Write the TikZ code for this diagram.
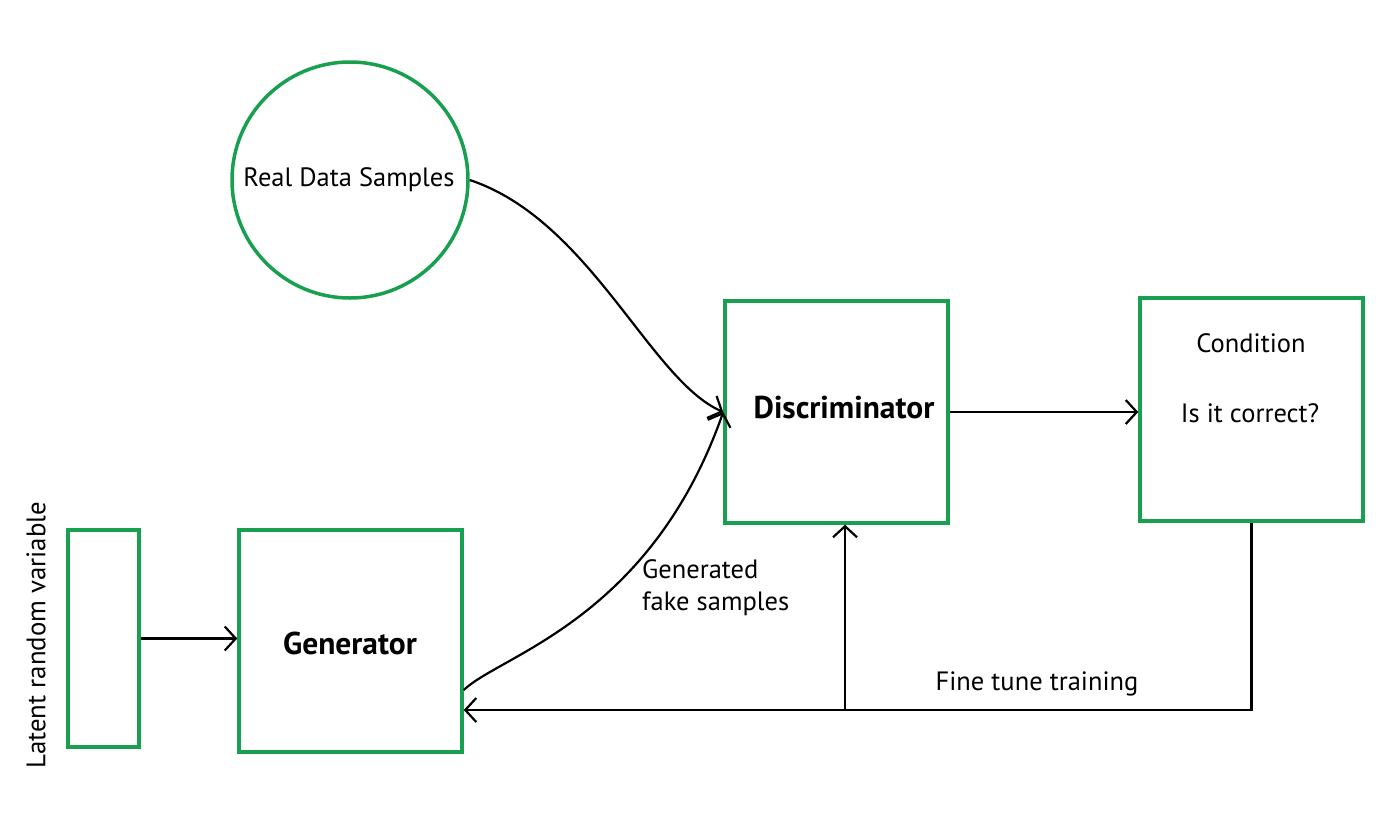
\documentclass[tikz,border=0pt]{standalone}
\usepackage{fontspec}
\setmainfont{PT Sans}
\usetikzlibrary{arrows.meta}
\definecolor{boxgreen}{RGB}{24,160,80}
\tikzset{
  gbox/.style={draw=boxgreen, line width=3.5pt, fill=white, inner sep=0pt},
  conn/.style={draw=black, line width=2.2pt},
  arr/.style={conn, -{Straight Barb[length=11pt, width=24pt, line width=2.2pt]}},
  lbl/.style={font=\fontsize{26.5}{32}\selectfont, inner sep=0pt},
  blbl/.style={font=\fontsize{31.5}{36}\selectfont\bfseries, inner sep=0pt},
}
\begin{document}
\begin{tikzpicture}[x=1pt, y=-1pt]
\useasboundingbox (0,0) rectangle (1400,833);
\node[gbox, circle, minimum size=236pt] (real) at (350,180) {};
\node[lbl] (realt) at (349,180) {Real Data Samples};
\node[gbox, minimum width=223pt, minimum height=222pt] (disc) at (836.5,412) {};
\node[blbl] at (844,408) {Discriminator};
\node[gbox, minimum width=223pt, minimum height=223pt] (cond) at (1251.5,409.5) {};
\node[lbl] (condt) at (1251,343) {Condition};
\node[lbl] (corr) at (1250,413) {Is it correct?};
\node[gbox, minimum width=71pt, minimum height=217pt] (lat) at (103.5,638.5) {};
\node[lbl, font=\fontsize{26.8}{30}\selectfont, rotate=90] (latt) at (36,635) {Latent random variable};
\node[gbox, minimum width=223pt, minimum height=222pt] (gen) at (350.5,641) {};
\node[blbl] at (350,643) {Generator};
\node[lbl, align=left, anchor=north west] (gfs) at (642,559) {Generated\\fake samples};
\node[lbl] (ftt) at (1037,684) {Fine tune training};
\coordinate (j) at (845,710);
\draw[arr] (lat.east) -- (gen.west |- lat.east);
\draw[arr] (disc.east) -- (cond.west |- disc.east);
\draw[arr] (real.east) .. controls (590,220) and (650,380) .. (disc.west);
\draw[arr] (gen.east |- 0,690) .. controls (500,655) and (650,620) .. (disc.west);
\draw[conn] (cond.south) |- (j);
\draw[arr] (j) -- (gen.east |- j);
\draw[arr] (j) -- (disc.south -| j);
\end{tikzpicture}
\end{document}
